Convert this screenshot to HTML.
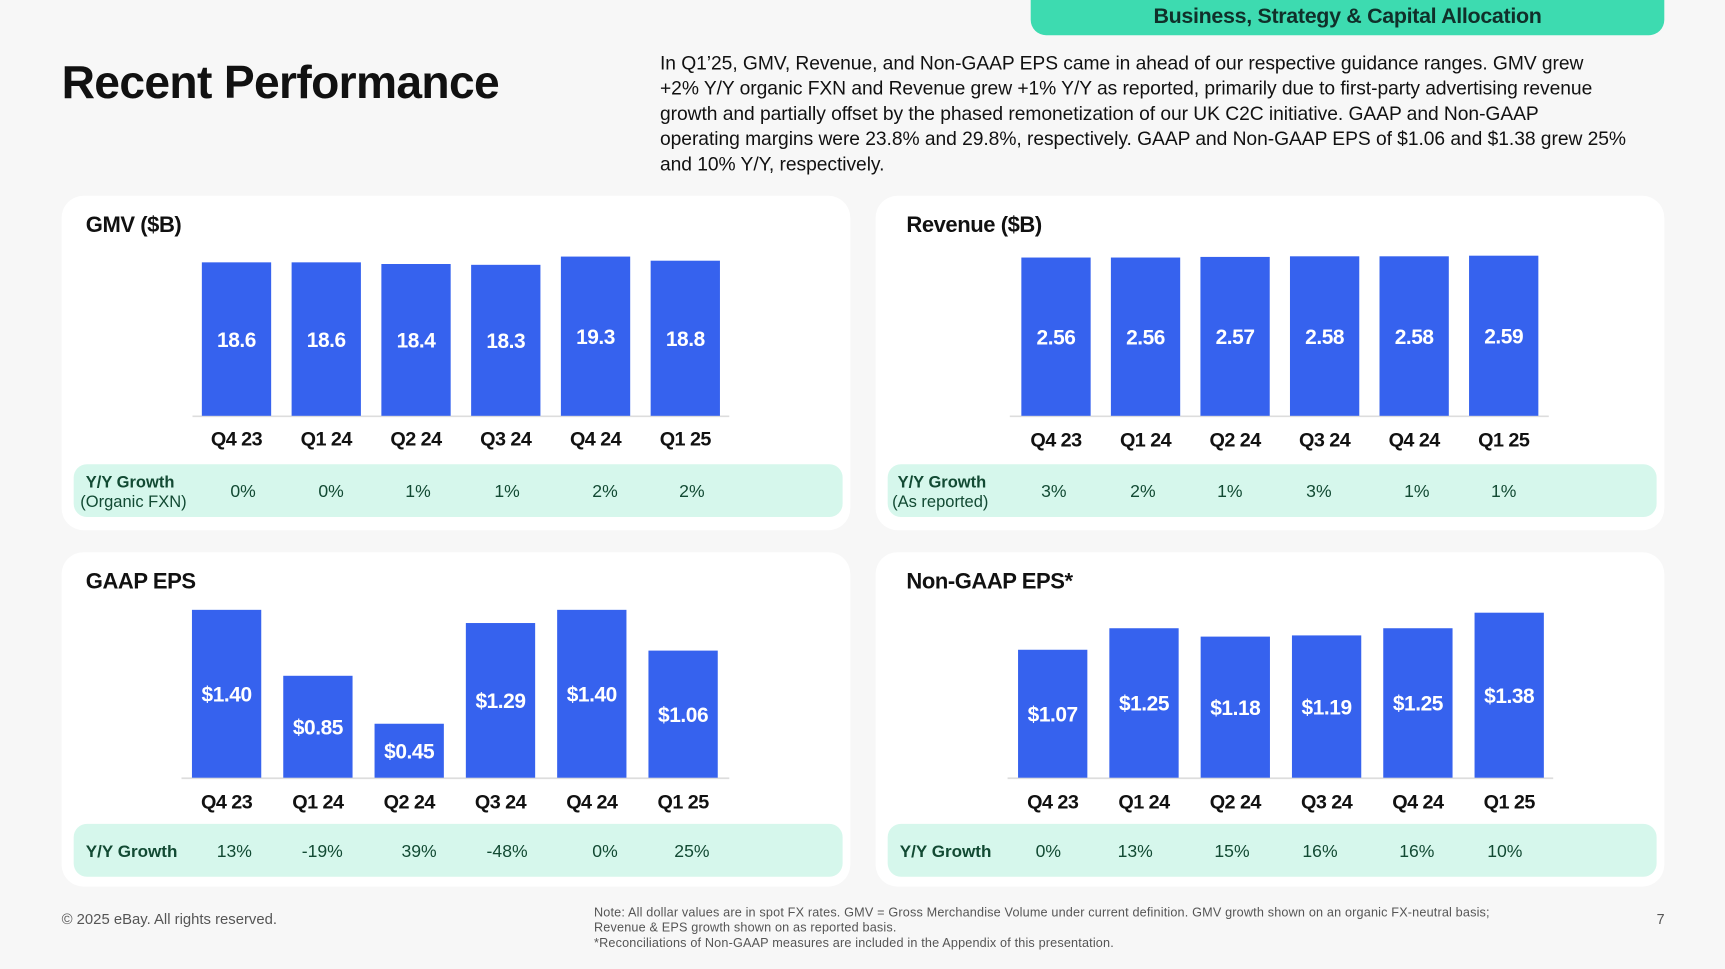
<!DOCTYPE html>
<html><head><meta charset="utf-8">
<style>
html,body{margin:0;padding:0;background:#f7f7f7;width:1725px;height:969px;overflow:hidden;font-family:"Liberation Sans",sans-serif;}
#wrap{position:absolute;left:0;top:0;width:1568px;height:881px;transform:scale(1.1);transform-origin:0 0;}
.abs{position:absolute;white-space:nowrap;}
#banner{left:937px;top:0;width:576px;height:32px;background:#3ddbb0;border-radius:0 0 14px 14px;text-align:center;font-weight:bold;font-size:19.5px;line-height:31px;color:#10302a;letter-spacing:-0.3px;}
#title{left:56px;top:51px;font-size:42px;font-weight:bold;color:#111;letter-spacing:-0.6px;}
#para{left:600px;top:46px;font-size:17.5px;line-height:23px;color:#111;letter-spacing:-0.05px;}
.foot{font-size:12px;color:#555;}
</style></head><body>
<div id="wrap">
<div id="banner" class="abs">Business, Strategy &amp; Capital Allocation</div>
<div id="title" class="abs">Recent Performance</div>
<div id="para" class="abs">In Q1’25, GMV, Revenue, and Non-GAAP EPS came in ahead of our respective guidance ranges. GMV grew<br>+2% Y/Y organic FXN and Revenue grew +1% Y/Y as reported, primarily due to first-party advertising revenue<br>growth and partially offset by the phased remonetization of our UK C2C initiative. GAAP and Non-GAAP<br>operating margins were 23.8% and 29.8%, respectively. GAAP and Non-GAAP EPS of $1.06 and $1.38 grew 25%<br>and 10% Y/Y, respectively.</div>
<svg id="charts" class="abs" style="left:0;top:0" width="1568" height="881"></svg>
<div class="abs foot" style="left:56px;top:828px;font-size:13.5px;">© 2025 eBay. All rights reserved.</div>
<div class="abs foot" style="left:540px;top:823px;line-height:14px;font-size:11.5px;letter-spacing:0.15px;">Note: All dollar values are in spot FX rates. GMV = Gross Merchandise Volume under current definition. GMV growth shown on an organic FX-neutral basis;<br>Revenue &amp; EPS growth shown on as reported basis.<br>*Reconciliations of Non-GAAP measures are included in the Appendix of this presentation.</div>
<div class="abs foot" style="left:1506px;top:828px;font-size:13px;">7</div>
</div>
<script>
const categories=["Q4 23","Q1 24","Q2 24","Q3 24","Q4 24","Q1 25"];
const gmvValues=[18.6,18.6,18.4,18.3,19.3,18.8];
const gmvLabels=["18.6","18.6","18.4","18.3","19.3","18.8"];
const gmvGrowth=["0%","0%","1%","1%","2%","2%"];
const revValues=[2.56,2.56,2.57,2.58,2.58,2.59];
const revLabels=["2.56","2.56","2.57","2.58","2.58","2.59"];
const revGrowth=["3%","2%","1%","3%","1%","1%"];
const gaapValues=[1.40,0.85,0.45,1.29,1.40,1.06];
const gaapLabels=["$1.40","$0.85","$0.45","$1.29","$1.40","$1.06"];
const gaapGrowth=["13%","-19%","39%","-48%","0%","25%"];
const ngValues=[1.07,1.25,1.18,1.19,1.25,1.38];
const ngLabels=["$1.07","$1.25","$1.18","$1.19","$1.25","$1.38"];
const ngGrowth=["0%","13%","15%","16%","16%","10%"];

const NS="http://www.w3.org/2000/svg";
const svg=document.getElementById('charts');
function mk(tag,attrs,parent){const e=document.createElementNS(NS,tag);for(const k in attrs)e.setAttribute(k,attrs[k]);(parent||svg).appendChild(e);return e;}
function txt(x,y,s,attrs,parent){const t=mk('text',Object.assign({x:x,y:y},attrs),parent);t.textContent=s;return t;}

const panels=[
 {name:'gmv',title:'GMV ($B)',cx:56,cy:178,tx:78,gx:78,firstX:215,step:81.6,axisX0:175,axisX1:663,base:378,pxPer:7.5,values:gmvValues,labels:gmvLabels,growth:gmvGrowth,gLabel:['Y/Y Growth','(Organic FXN)'],gX:[221,301,380,461,550,629],catY:405,sOff:244},
 {name:'revenue',title:'Revenue ($B)',cx:796,cy:178,tx:824,gx:816,firstX:960,step:81.4,axisX0:918,axisX1:1408,base:378,pxPer:56.2,values:revValues,labels:revLabels,growth:revGrowth,gLabel:['Y/Y Growth','(As reported)'],gX:[958,1039,1118,1199,1288,1367],catY:406,sOff:244},
 {name:'gaap-eps',title:'GAAP EPS',cx:56,cy:502,tx:78,gx:78,firstX:206,step:83,axisX0:165,axisX1:663,base:707,pxPer:109,values:gaapValues,labels:gaapLabels,growth:gaapGrowth,gLabel:['Y/Y Growth'],gX:[213,293,381,461,550,629],catY:735,sOff:247},
 {name:'non-gaap-eps',title:'Non-GAAP EPS*',cx:796,cy:502,tx:824,gx:818,firstX:957,step:83,axisX0:916,axisX1:1412,base:707,pxPer:108.7,values:ngValues,labels:ngLabels,growth:ngGrowth,gLabel:['Y/Y Growth'],gX:[953,1032,1120,1200,1288,1368],catY:735,sOff:247}
];
panels.forEach(p=>{
  const g=mk('g',{});
  
  
  const card=mk('rect',{x:p.cx,y:p.cy,width:717,height:304,rx:20,fill:'#ffffff'},g);
  
  
  const t=txt(p.tx,p.cy+33,p.title,{'font-size':20,'font-weight':'bold',fill:'#111','letter-spacing':'-0.4'},g);
  
  
  const ax=mk('line',{x1:p.axisX0,x2:p.axisX1,y1:p.base+0.5,y2:p.base+0.5,stroke:'#dddddd','stroke-width':1.5},g);
  
  
  const bw=63;
  p.values.forEach((v,i)=>{
    const x=p.firstX+i*p.step;
    const h=v*p.pxPer;
    const r=mk('rect',{x:x-bw/2,y:p.base-h,width:bw,height:h,fill:'#3662ee'},g);
    
    
    const lt=txt(x,p.base-h/2+7,p.labels[i],{'font-size':19,'font-weight':'bold',fill:'#ffffff','text-anchor':'middle','letter-spacing':'-0.4'},g);
    
    
    const ct=txt(x,p.catY,categories[i],{'font-size':18,'font-weight':'bold',fill:'#111','text-anchor':'middle','letter-spacing':'-0.5'},g);
    
    
  });
  const sy=p.cy+p.sOff;
  const strip=mk('rect',{x:p.cx+11,y:sy,width:699,height:48,rx:12,fill:'#d6f7ec'},g);
  
  
  if(p.gLabel.length===2){
    const a=txt(p.gx,sy+21,p.gLabel[0],{'font-size':15,'font-weight':'bold',fill:'#124a33'},g);
    
    
    const b=txt(p.gx-5,sy+39,p.gLabel[1],{'font-size':15,fill:'#124a33'},g);
    
    
  } else {
    const a=txt(p.gx,sy+30,p.gLabel[0],{'font-size':15.5,'font-weight':'bold',fill:'#124a33'},g);
    
    
  }
  p.growth.forEach((s,i)=>{
    const gt=txt(p.gX[i],sy+30,s,{'font-size':16,fill:'#124a33','text-anchor':'middle'},g);
    
    
  });
});
</script>
</body></html>
